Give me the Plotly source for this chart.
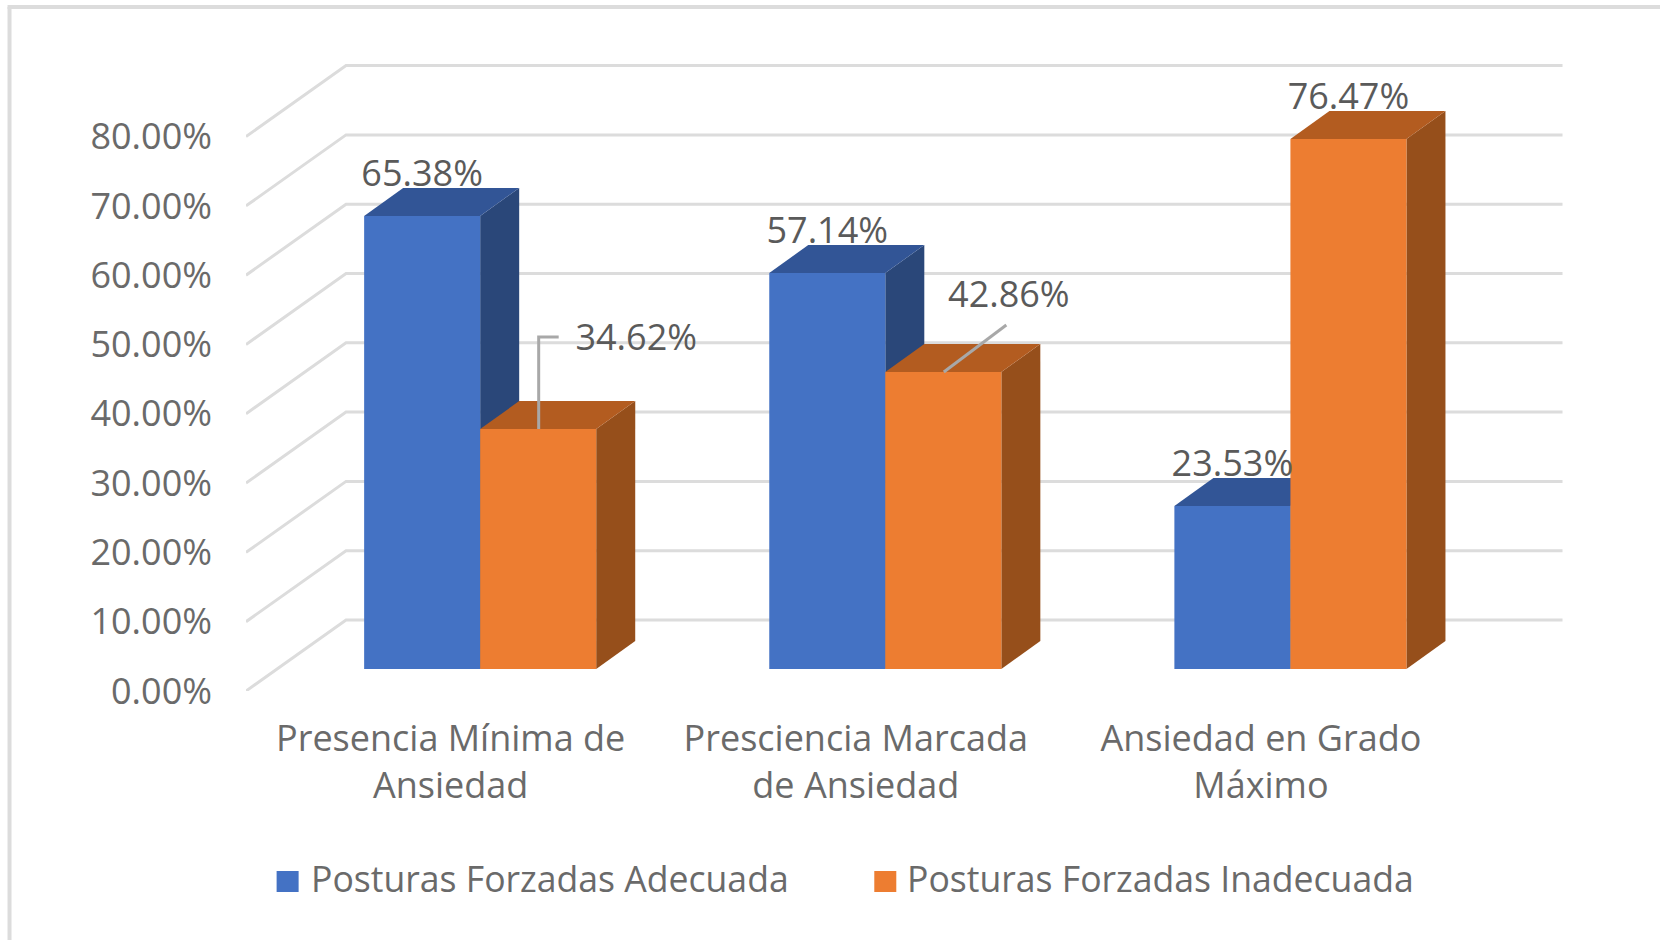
import plotly.graph_objects as go

categories = ["Presencia Mínima de<br>Ansiedad", "Presciencia Marcada<br>de Ansiedad", "Ansiedad en Grado<br>Máximo"]
series_names = ["Posturas Forzadas Adecuada", "Posturas Forzadas Inadecuada"]
adecuada = [65.38, 57.14, 23.53]
inadecuada = [34.62, 42.86, 76.47]
y_ticks = [0, 10, 20, 30, 40, 50, 60, 70, 80]

FONT = "Open Sans"
FS = 36
FS_LEGEND = 35.6
AXIS_C = "#6a6a6a"
LABEL_C = "#5a5a5a"
GRID_C = "#dcdcdc"
LEAD_C = "#a8a8a8"
FRONT = ["#4472c4", "#ed7d31"]
TOP = ["#325596", "#b35c20"]
SIDE = ["#2a4779", "#964f1b"]

# picture geometry (page pixels)
W, H = 1660, 940
L, R, T, B = 246.4, 1570, 50, 691
CAT0, CAT_STEP = 451, 405
PX_PCT = 6.93

def dx(px):
    return px / CAT_STEP

def dy(px):
    return px / PX_PCT

def px2x(px):
    return (px - CAT0) / CAT_STEP

def px2y(py):
    return (B - py) / PX_PCT

def paperx(px):
    return (px - L) / (R - L)

def papery(py):
    return (B - py) / (B - T)

x_range = [px2x(L), px2x(R)]
y_range = [0, px2y(T)]
BAR_W = dx(116)
BASE = dy(22)
SHIFT = dx(29.5)
DEP_X, DEP_Y = dx(39), dy(28)
WALL_X, WALL_Y = dx(100), dy(71)
GRID_END = px2x(1562.5)

fig = go.Figure()

# Wall and floor gridlines
gx, gy = [], []
for t in y_ticks:
    gx += [x_range[0], x_range[0] + WALL_X, GRID_END, None]
    gy += [t, t + WALL_Y, t + WALL_Y, None]
fig.add_trace(go.Scatter(x=gx, y=gy, mode="lines", line=dict(color=GRID_C, width=3),
                         hoverinfo="skip", showlegend=False))

def face(xs, ys, color):
    fig.add_trace(go.Scatter(x=xs, y=ys, mode="lines", fill="toself", fillcolor=color,
                             line=dict(width=0, color=color), hoverinfo="skip", showlegend=False))

# Top and side faces, back to front
for s, vals in enumerate([adecuada, inadecuada]):
    for i, v in enumerate(vals):
        x0 = i + SHIFT - BAR_W + s * BAR_W
        x1 = x0 + BAR_W
        top = BASE + v
        face([x1, x1 + DEP_X, x1 + DEP_X, x1, x1],
             [BASE, BASE + DEP_Y, top + DEP_Y, top, BASE], SIDE[s])
        face([x0, x0 + DEP_X, x1 + DEP_X, x1, x0],
             [top, top + DEP_Y, top + DEP_Y, top, top], TOP[s])

# Front faces (overlay axes so that they cover the side faces)
for s, vals in enumerate([adecuada, inadecuada]):
    fig.add_trace(go.Bar(
        x=[i + SHIFT - BAR_W / 2 + s * BAR_W for i in range(len(vals))],
        y=vals, base=[BASE] * len(vals), width=BAR_W, name=series_names[s],
        marker=dict(color=FRONT[s], line=dict(width=0)),
        xaxis="x2", yaxis="y2", showlegend=False,
        hovertemplate="%{y:.2f}%<extra>" + series_names[s] + "</extra>"))

# Leader lines
lead_x = [SHIFT + dx(58.5), SHIFT + dx(58.5), SHIFT + dx(78.5), None,
          1 + SHIFT + dx(58.5), 1 + SHIFT + dx(121)]
lead_y = [BASE + inadecuada[0], BASE + inadecuada[0] + dy(92), BASE + inadecuada[0] + dy(92), None,
          BASE + inadecuada[1], BASE + inadecuada[1] + dy(47)]
fig.add_trace(go.Scatter(x=lead_x, y=lead_y, mode="lines", line=dict(color=LEAD_C, width=3),
                         xaxis="x2", yaxis="y2", hoverinfo="skip", showlegend=False))

# Data labels
lab_x, lab_y, lab_t = [], [], []
for s, vals in enumerate([adecuada, inadecuada]):
    for i, v in enumerate(vals):
        cx = i + SHIFT - BAR_W / 2 + s * BAR_W
        cy = BASE + v + dy(39)
        if s == 1 and i == 0:
            cx, cy = i + SHIFT + dx(156), BASE + v + dy(88)
        if s == 1 and i == 1:
            cx, cy = i + SHIFT + dx(123.5), BASE + v + dy(74)
        lab_x.append(cx)
        lab_y.append(cy)
        lab_t.append(f"{v:.2f}%")
fig.add_trace(go.Scatter(x=lab_x, y=lab_y, text=lab_t, mode="text", textposition="middle center",
                         textfont=dict(family=FONT, size=FS, color=LABEL_C), cliponaxis=False,
                         xaxis="x2", yaxis="y2", hoverinfo="skip", showlegend=False))

# Frame and legend
shapes = [
    dict(type="line", xref="paper", yref="paper", x0=paperx(10), x1=paperx(10), y0=papery(7), y1=papery(H),
         line=dict(color=GRID_C, width=4)),
    dict(type="line", xref="paper", yref="paper", x0=paperx(8), x1=paperx(W), y0=papery(7), y1=papery(7),
         line=dict(color=GRID_C, width=4)),
]
annotations = []
for s, (sx, tx) in enumerate([(277, 309), (874.5, 905)]):
    shapes.append(dict(type="rect", xref="paper", yref="paper", x0=paperx(sx), x1=paperx(sx + 22),
                       y0=papery(892), y1=papery(871), fillcolor=FRONT[s], line=dict(width=0)))
    annotations.append(dict(xref="paper", yref="paper", x=paperx(tx), y=papery(878), text=series_names[s],
                            xanchor="left", yanchor="middle", showarrow=False,
                            font=dict(family=FONT, size=FS_LEGEND, color=AXIS_C)))

fig.update_layout(
    width=W, height=H, margin=dict(l=L, r=W - R, t=T, b=H - B, autoexpand=False),
    paper_bgcolor="white", plot_bgcolor="rgba(0,0,0,0)", barmode="overlay", showlegend=False,
    shapes=shapes, annotations=annotations,
    xaxis=dict(range=x_range, tickmode="array", tickvals=list(range(len(categories))), ticktext=categories,
               showgrid=False, zeroline=False, showline=False, ticks="", ticklabelstandoff=23,
               tickfont=dict(family=FONT, size=FS, color=AXIS_C)),
    yaxis=dict(range=y_range, tickmode="array", tickvals=y_ticks, ticktext=[f"{t:.2f}%" for t in y_ticks],
               showgrid=False, zeroline=False, showline=False, ticks="", ticklabelstandoff=33,
               tickfont=dict(family=FONT, size=FS, color=AXIS_C)),
    xaxis2=dict(range=x_range, overlaying="x", visible=False),
    yaxis2=dict(range=y_range, overlaying="y", visible=False),
)

fig.write_html("out.html", config=dict(displayModeBar=False),
               post_script="document.body.style.margin='0';document.body.style.overflow='hidden';")
